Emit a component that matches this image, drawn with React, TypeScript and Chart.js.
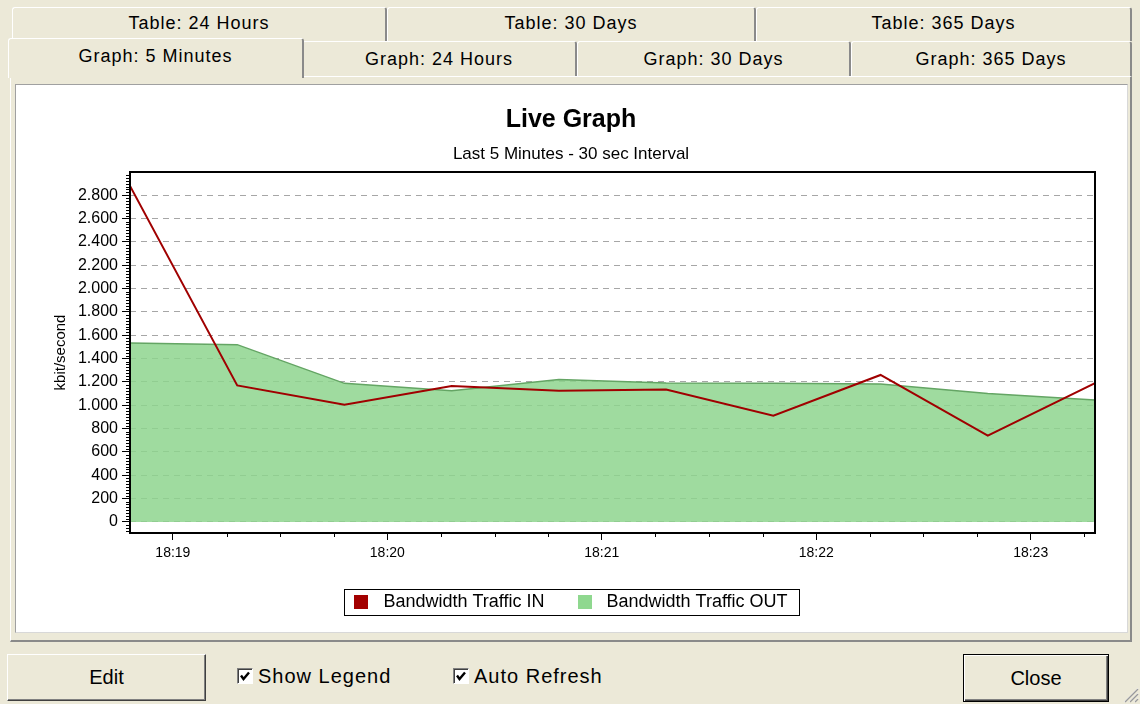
import React, { useEffect, useRef } from 'react';
import { Chart, registerables } from 'chart.js';

Chart.register(...registerables);

// ---- data ----
const sampleTimes = ['18:18:48', '18:19:18', '18:19:48', '18:20:18', '18:20:48', '18:21:18', '18:21:48', '18:22:18', '18:22:48', '18:23:18'];
const trafficIn = [2880, 1170, 1005, 1165, 1125, 1135, 910, 1260, 740, 1190];
const trafficOut = [1535, 1520, 1188, 1125, 1220, 1190, 1188, 1182, 1102, 1045];
const seriesLabels = ['Bandwidth Traffic IN', 'Bandwidth Traffic OUT'];
const xTickLabels = ['18:19', '18:20', '18:21', '18:22', '18:23'];
const yTickValues = [0, 200, 400, 600, 800, 1000, 1200, 1400, 1600, 1800, 2000, 2200, 2400, 2600, 2800];
const tableTabs = ['Table: 24 Hours', 'Table: 30 Days', 'Table: 365 Days'];
const graphTabs = ['Graph: 5 Minutes', 'Graph: 24 Hours', 'Graph: 30 Days', 'Graph: 365 Days'];

const FONT = '"Liberation Sans", Arial, sans-serif';
const IN_COLOR = '#a00000';
const SWATCH = ['#a30000', '#8fd88f'];

const toSec = (s: string) => {
  const p = s.split(':').map(Number);
  return p[0] * 3600 + p[1] * 60 + (p[2] || 0);
};
const fmtTime = (v: number) => {
  const h = Math.floor(v / 3600);
  const m = Math.floor((v % 3600) / 60);
  return `${h}:${String(m).padStart(2, '0')}`;
};
const fmtNum = (v: number) =>
  v >= 1000 ? `${Math.floor(v / 1000)}.${String(v % 1000).padStart(3, '0')}` : String(v);

const framePlugin = {
  id: 'frame',
  afterDraw(chart: any) {
    const { ctx, chartArea: a, scales } = chart;
    const xs = scales.x;
    const ys = scales.y;
    ctx.save();
    ctx.strokeStyle = '#000';
    ctx.lineWidth = 1;
    // minor ticks x (every 15 s)
    ctx.beginPath();
    for (let t = Math.ceil(xs.min / 15) * 15; t <= xs.max; t += 15) {
      if (t % 60 === 0) continue;
      const px = Math.round(xs.getPixelForValue(t)) + 0.5;
      ctx.moveTo(px, a.bottom);
      ctx.lineTo(px, a.bottom + 4);
    }
    // minor ticks y (every 25)
    for (let v = -75; v <= 2975; v += 25) {
      if (v % 200 === 0 && v >= 0 && v <= 2800) continue;
      const py = Math.round(ys.getPixelForValue(v)) + 0.5;
      if (py < a.top || py > a.bottom) continue;
      ctx.moveTo(a.left - 4, py);
      ctx.lineTo(a.left, py);
    }
    ctx.stroke();
    // plot frame
    ctx.lineWidth = 2;
    ctx.strokeRect(a.left, a.top, a.right - a.left, a.bottom - a.top);
    // legend swatches and frame
    const hb = chart.legend && chart.legend.legendHitBoxes;
    if (hb && hb.length) {
      hb.forEach((h: any, i: number) => {
        ctx.fillStyle = SWATCH[i];
        ctx.fillRect(Math.round(h.left), Math.round(h.top + h.height / 2 - 7), 14, 14);
      });
      const l = Math.min(...hb.map((h: any) => h.left)) - 10;
      const r = Math.max(...hb.map((h: any) => h.left + h.width)) + 12;
      const cy = hb[0].top + hb[0].height / 2;
      ctx.lineWidth = 1;
      ctx.strokeStyle = '#000';
      ctx.strokeRect(Math.round(l) + 0.5, Math.round(cy - 13) + 0.5, Math.round(r - l), 26);
    }
    ctx.restore();
  },
};

function LiveChart() {
  const ref = useRef<HTMLCanvasElement | null>(null);
  useEffect(() => {
    if (!ref.current) return;
    const t0 = toSec(sampleTimes[0]);
    const t1 = toSec(sampleTimes[sampleTimes.length - 1]);
    const chart = new Chart(ref.current, {
      type: 'line',
      data: {
        datasets: [
          {
            label: seriesLabels[0],
            data: sampleTimes.map((t, i) => ({ x: toSec(t), y: trafficIn[i] })),
            borderColor: IN_COLOR,
            backgroundColor: IN_COLOR,
            borderWidth: 2,
            pointRadius: 0,
            fill: false,
            tension: 0,
          },
          {
            label: seriesLabels[1],
            data: sampleTimes.map((t, i) => ({ x: toSec(t), y: trafficOut[i] })),
            borderColor: 'rgb(100,165,100)',
            backgroundColor: 'rgba(141,212,141,0.84)',
            borderWidth: 1.5,
            pointRadius: 0,
            fill: 'origin',
            tension: 0,
          },
        ],
      },
      options: {
        animation: false,
        responsive: false,
        maintainAspectRatio: false,
        layout: { padding: { top: 0, left: 0, right: 0, bottom: 11 } },
        plugins: {
          title: {
            display: true,
            text: 'Live Graph',
            color: '#000',
            font: { family: FONT, size: 25, weight: 'bold' },
            padding: { top: 20, bottom: 5 },
          },
          subtitle: {
            display: true,
            text: 'Last 5 Minutes - 30 sec Interval',
            color: '#000',
            font: { family: FONT, size: 17 },
            padding: { top: 4.5, bottom: 7.1 },
          },
          legend: {
            position: 'bottom',
            labels: {
              boxWidth: 20,
              boxHeight: 14,
              padding: 33,
              color: '#000',
              font: { family: FONT, size: 18 },
              generateLabels: (c: any) =>
                c.data.datasets.map((ds: any, i: number) => ({
                  text: ds.label,
                  fillStyle: 'rgba(0,0,0,0)',
                  strokeStyle: 'rgba(0,0,0,0)',
                  lineWidth: 0,
                  hidden: false,
                  datasetIndex: i,
                  fontColor: '#000',
                })),
            },
          },
          tooltip: { enabled: false },
        },
        scales: {
          x: {
            type: 'linear',
            min: t0,
            max: t1,
            afterBuildTicks: (s: any) => {
              s.ticks = xTickLabels.map((l) => ({ value: toSec(l) }));
            },
            ticks: {
              callback: (v: any) => fmtTime(Number(v)),
              color: '#000',
              font: { family: FONT, size: 14 },
              padding: 5,
              maxRotation: 0,
              autoSkip: false,
            },
            grid: { display: true, drawOnChartArea: false, drawTicks: true, tickLength: 7, tickColor: '#000', tickWidth: 1 },
            border: { display: false },
            afterFit: (s: any) => {
              s.height = 27;
            },
          },
          y: {
            type: 'linear',
            min: -95,
            max: 3000,
            afterBuildTicks: (s: any) => {
              s.ticks = yTickValues.map((v) => ({ value: v }));
            },
            ticks: {
              callback: (v: any) => fmtNum(Number(v)),
              color: '#000',
              font: { family: FONT, size: 16 },
              padding: 4,
              autoSkip: false,
            },
            grid: { color: '#a6a6a6', lineWidth: 1, drawTicks: true, tickLength: 8, tickColor: '#000', tickWidth: 1 },
            border: { display: false, dash: [6, 5] },
            title: {
              display: true,
              text: 'kbit/second',
              color: '#000',
              font: { family: FONT, size: 15 },
              padding: { top: 36, bottom: 0 },
            },
            afterFit: (s: any) => {
              s.width = 114;
            },
          },
          yr: {
            type: 'linear',
            position: 'right',
            min: 0,
            max: 1,
            ticks: { display: false },
            grid: { display: false },
            border: { display: false },
            afterFit: (s: any) => {
              s.width = 31;
            },
          },
        },
      } as any,
      plugins: [framePlugin],
    });
    return () => chart.destroy();
  }, []);
  return (
    <canvas
      ref={ref}
      width={1110}
      height={547}
      style={{ position: 'absolute', left: 16, top: 85, width: 1110, height: 547, display: 'block', background: '#fff' }}
    />
  );
}

const tabBase: React.CSSProperties = {
  position: 'absolute',
  boxSizing: 'border-box',
  background: '#ece9d8',
  borderTop: '1px solid #fff',
  borderLeft: '1px solid #fff',
  borderRight: '2px solid #8a8a8a',
  borderTopLeftRadius: 3,
  borderTopRightRadius: 3,
  display: 'flex',
  alignItems: 'center',
  justifyContent: 'center',
  fontSize: 18,
  letterSpacing: 1,
  color: '#000',
  whiteSpace: 'nowrap',
};

function Check({ left, label }: { left: number; label: string }) {
  return (
    <>
      <div
        style={{
          position: 'absolute',
          left,
          top: 668,
          width: 16,
          height: 16,
          boxSizing: 'border-box',
          background: '#fff',
          border: '1px solid',
          borderColor: '#808080 #fff #fff #808080',
          boxShadow: 'inset 1px 1px 0 #404040',
        }}
      >
        <svg width="14" height="14" style={{ position: 'absolute', left: 0, top: 0 }}>
          <polyline points="3,6.5 5.5,10 11,3.5" fill="none" stroke="#000" strokeWidth="2.4" />
        </svg>
      </div>
      <div
        style={{
          position: 'absolute',
          left: left + 21,
          top: 664,
          fontSize: 20,
          lineHeight: '24px',
          letterSpacing: 1,
          color: '#000',
          whiteSpace: 'nowrap',
        }}
      >
        {label}
      </div>
    </>
  );
}

export default function App() {
  const row1 = [
    [12, 375],
    [387, 369],
    [756, 376],
  ];
  const row2 = [
    [302, 275],
    [577, 274],
    [851, 281],
  ];
  return (
    <div
      style={{
        position: 'fixed',
        left: 0,
        top: 0,
        width: 1140,
        height: 704,
        background: '#ece9d8',
        overflow: 'hidden',
        fontFamily: FONT,
      }}
    >
      {tableTabs.map((t, i) => (
        <div key={t} style={{ ...tabBase, left: row1[i][0], top: 7, width: row1[i][1], height: 34, paddingBottom: 3 }}>
          {t}
        </div>
      ))}
      {/* panel */}
      <div
        style={{
          position: 'absolute',
          left: 10,
          top: 76,
          width: 1122,
          height: 566,
          boxSizing: 'border-box',
          borderTop: '1px solid #fff',
          borderLeft: '1px solid #fff',
          borderRight: '2px solid #8a8a8a',
          borderBottom: '2px solid #8a8a8a',
          background: '#ece9d8',
        }}
      />
      {graphTabs.slice(1).map((t, i) => (
        <div key={t} style={{ ...tabBase, left: row2[i][0], top: 41, width: row2[i][1], height: 35 }}>
          {t}
        </div>
      ))}
      <div
        style={{
          ...tabBase,
          left: 8,
          top: 38,
          width: 296,
          height: 40,
          paddingBottom: 4,
          borderBottom: 'none',
          zIndex: 2,
        }}
      >
        {graphTabs[0]}
      </div>
      {/* white chart well */}
      <div
        style={{
          position: 'absolute',
          left: 15,
          top: 84,
          width: 1113,
          height: 549,
          boxSizing: 'border-box',
          background: '#fff',
          border: '1px solid',
          borderColor: '#a0a0a0 #d8d8d8 #d8d8d8 #a0a0a0',
        }}
      />
      <LiveChart />
      {/* bottom controls */}
      <div
        style={{
          position: 'absolute',
          left: 7,
          top: 654,
          width: 199,
          height: 47,
          boxSizing: 'border-box',
          border: '1px solid',
          borderColor: '#fff #404040 #404040 #fff',
          boxShadow: 'inset -1px -1px 0 #808080',
          display: 'flex',
          alignItems: 'center',
          justifyContent: 'center',
          fontSize: 20,
          color: '#000',
        }}
      >
        Edit
      </div>
      <Check left={237} label="Show Legend" />
      <Check left={453} label="Auto Refresh" />
      <div
        style={{
          position: 'absolute',
          left: 963,
          top: 654,
          width: 146,
          height: 48,
          boxSizing: 'border-box',
          border: '1px solid #000',
          boxShadow: 'inset 1px 1px 0 #fff, inset -1px -1px 0 #404040, inset -2px -2px 0 #808080',
          display: 'flex',
          alignItems: 'center',
          justifyContent: 'center',
          fontSize: 20,
          color: '#000',
        }}
      >
        Close
      </div>
      <svg width="20" height="20" style={{ position: 'absolute', left: 1119, top: 683 }}>
        {[0, 1, 2].map((k) => (
          <g key={k}>
            <line x1={19 - 5 * k - 4} y1={19} x2={19} y2={19 - 5 * k - 4} stroke="#fff" strokeWidth="1" />
            <line x1={19 - 5 * k - 3} y1={19} x2={19} y2={19 - 5 * k - 3} stroke="#9a9a9a" strokeWidth="1.4" />
          </g>
        ))}
      </svg>
    </div>
  );
}
